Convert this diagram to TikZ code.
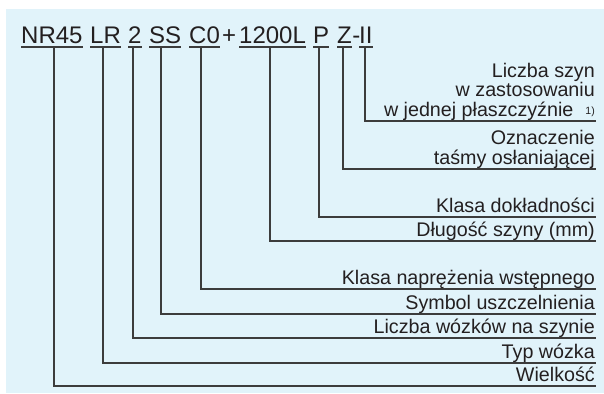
\documentclass[tikz,border=0pt]{standalone}
\usepackage{fontspec}
\setmainfont{Liberation Sans}
\definecolor{bgblue}{HTML}{E1F3FA}
\definecolor{txt}{HTML}{231F20}
\definecolor{ln}{HTML}{3C3C3C}
\begin{document}
\begin{tikzpicture}[x=1pt,y=-1pt,
  code/.style={anchor=base west,inner sep=0pt,font=\fontsize{24}{24}\selectfont,text=txt},
  lbl/.style={anchor=base east,inner sep=0pt,font=\fontsize{19.7}{19.7}\selectfont,text=txt},
  uline/.style={draw=ln,line width=1.1pt},
  conn/.style={draw=ln,line width=1.1pt}]
\useasboundingbox (0,0) rectangle (604,393);
\fill[bgblue] (6,9) rectangle (604,393);
% code segments
\node[code] (nr) at (21,44) {NR45};
\node[code] (lr) at (90,44) {LR};
\node[code] (two) at (128,44) {2};
\node[code] (ss) at (149,44) {SS};
\node[code] (c0) at (189,44) {C0};
\node[code] (plus) at (222,44) {+};
\node[code] (len) at (239,44) {1200L};
\node[code] (p) at (313,44) {P};
\node[code] (z) at (337,44) {Z};
\node[code] (dash) at (z.base east) {-};
\node[code] (ii) at (359,44) {II};
\foreach \s in {nr,lr,two,ss,c0,len,p,z,ii}
  \draw[uline] ([yshift=-3pt]\s.base west) -- ([yshift=-3pt]\s.base east);
% labels
\node[lbl] (a1) at (595,78) {Liczba szyn};
\node[lbl] (a2) at (595,97) {w zastosowaniu};
\node[lbl] (a3) at (595,117) {w jednej płaszczyźnie\,\, \raisebox{2pt}{\fontsize{10.5}{10.5}\selectfont 1)}};
\node[lbl] (b1) at (595,144) {Oznaczenie};
\node[lbl] (b2) at (595,164) {taśmy osłaniającej};
\node[lbl] (c) at (595,212.5) {Klasa dokładności};
\node[lbl] (d) at (595,236.5) {Długość szyny (mm)};
\node[lbl] (e) at (595,284.5) {Klasa naprężenia wstępnego};
\node[lbl] (f) at (595,309) {Symbol uszczelnienia};
\node[lbl] (g) at (595,333.5) {Liczba wózków na szynie};
\node[lbl] (h) at (595,358) {Typ wózka};
\node[lbl] (i) at (595,381.5) {Wielkość};
% connector corner points
\coordinate (vii) at (365,47);  \coordinate (eii) at (596,121);
\coordinate (vz) at (343,47);   \coordinate (ez) at (596,169);
\coordinate (vp) at (319,47);   \coordinate (ep) at (596,217);
\coordinate (vlen) at (270,47); \coordinate (elen) at (596,241);
\coordinate (vc0) at (201,47);  \coordinate (ec0) at (596,289);
\coordinate (vss) at (161,47);  \coordinate (ess) at (596,314);
\coordinate (vtwo) at (133,47); \coordinate (etwo) at (596,338);
\coordinate (vlr) at (103,47);  \coordinate (elr) at (596,363);
\coordinate (vnr) at (54,47);   \coordinate (enr) at (596,386);
\foreach \k in {ii,z,p,len,c0,ss,two,lr,nr}
  \draw[conn] (v\k) |- (e\k);
\end{tikzpicture}
\end{document}
